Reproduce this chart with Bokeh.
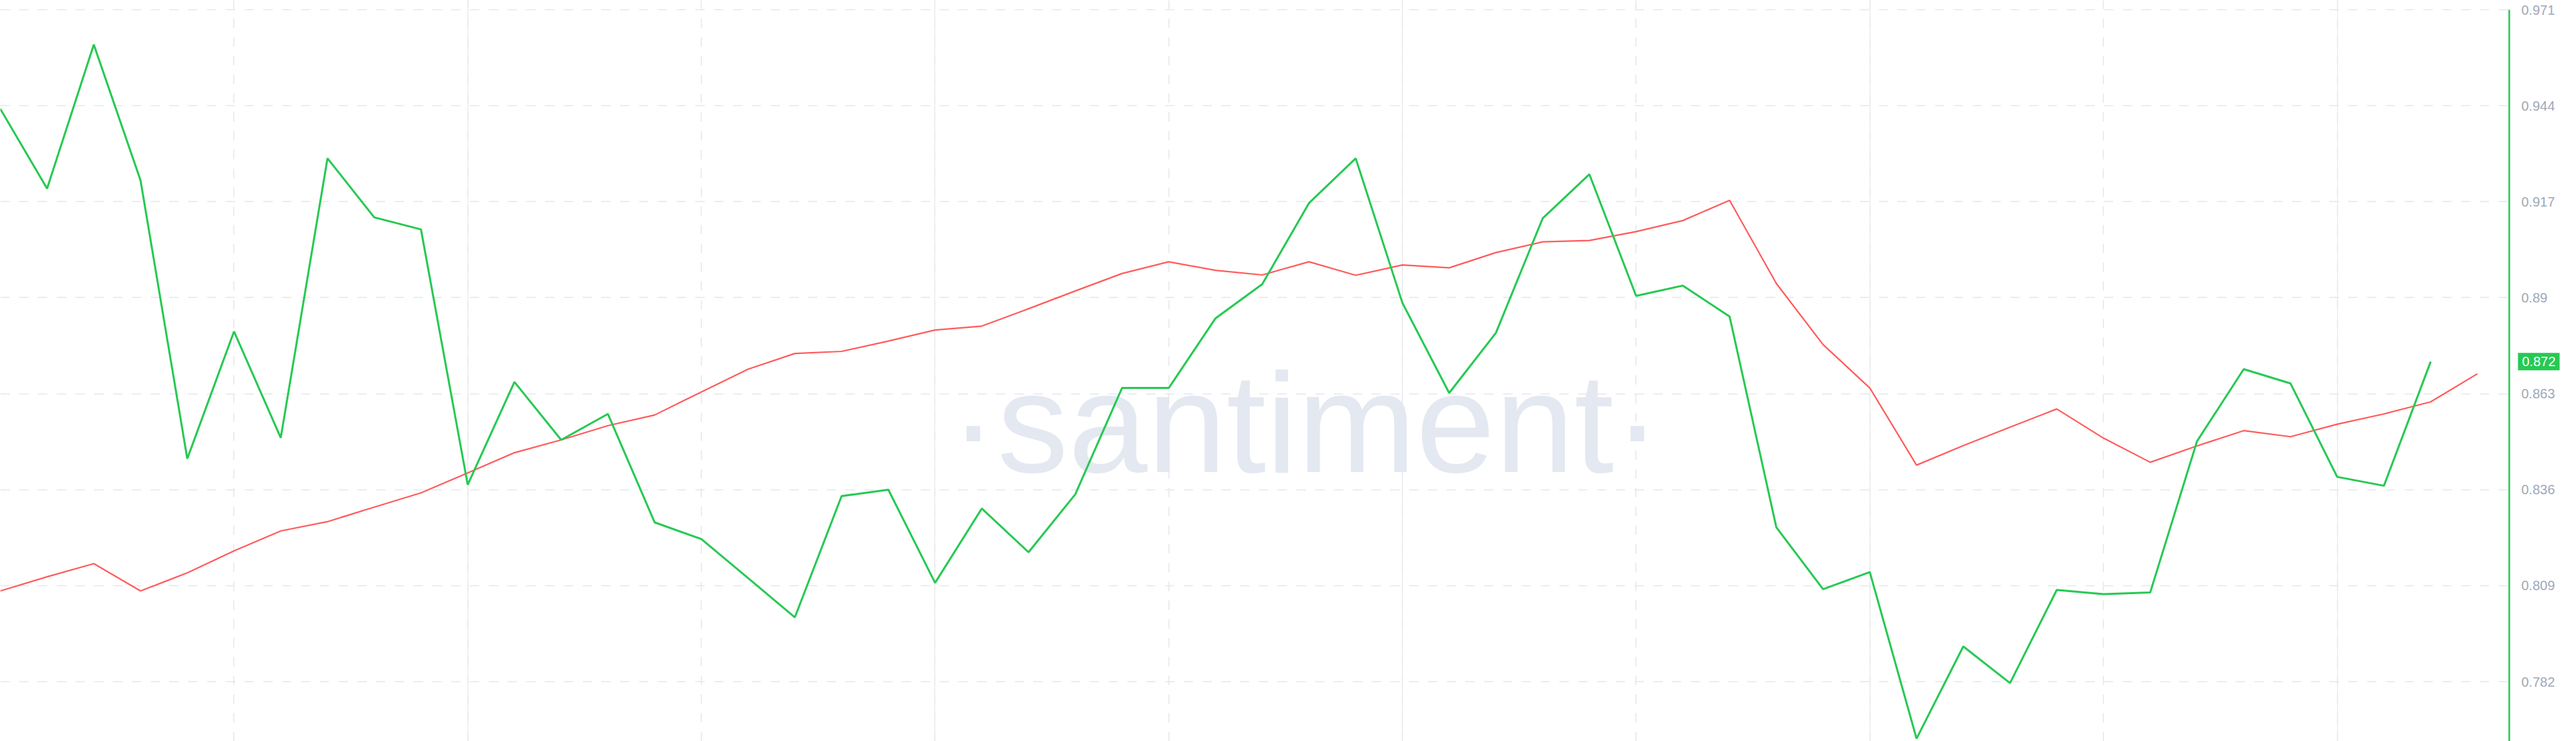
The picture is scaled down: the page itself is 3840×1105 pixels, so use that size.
from bokeh.plotting import figure
from bokeh.models import Range1d, FixedTicker, NumeralTickFormatter, Grid, Label, BoxAnnotation
from bokeh.embed import file_html
from bokeh.resources import INLINE

# ---------------- data ----------------
green_values = [0.9431, 0.9207, 0.9612, 0.9230, 0.8447, 0.8805, 0.8506, 0.9292, 0.9126, 0.9092,
                0.8374, 0.8663, 0.8500, 0.8573, 0.8268, 0.8221, 0.8111, 0.8001, 0.8342, 0.8360,
                0.8098, 0.8307, 0.8184, 0.8347, 0.8646, 0.8646, 0.8842, 0.8938, 0.9166, 0.9292,
                0.8885, 0.8632, 0.8801, 0.9123, 0.9247, 0.8905, 0.8934, 0.8847, 0.8254, 0.8080,
                0.8128, 0.7660, 0.7919, 0.7816, 0.8078, 0.8066, 0.8071, 0.8496, 0.8699, 0.8659,
                0.8396, 0.8371, 0.8720]
red_values = [0.8075, 0.8115, 0.8152, 0.8075, 0.8126, 0.8188, 0.8244, 0.8270, 0.8311, 0.8351,
              0.8407, 0.8464, 0.8500, 0.8540, 0.8570, 0.8635, 0.8699, 0.8743, 0.8749, 0.8778,
              0.8809, 0.8820, 0.8869, 0.8919, 0.8968, 0.9001, 0.8977, 0.8964, 0.9001, 0.8963,
              0.8992, 0.8984, 0.9027, 0.9057, 0.9061, 0.9086, 0.9117, 0.9174, 0.8940, 0.8768,
              0.8646, 0.8429, 0.8484, 0.8536, 0.8587, 0.8505, 0.8437, 0.8483, 0.8526, 0.8509,
              0.8544, 0.8573, 0.8607, 0.8686]
green_x = list(range(len(green_values)))
red_x = list(range(len(red_values)))
y_tick_values = [0.971, 0.944, 0.917, 0.89, 0.863, 0.836, 0.809, 0.782]
x_grid_values = list(range(0, 51, 5))
watermark_text = "\u00b7santiment\u00b7"

# ---------------- layout / style ----------------
GREEN = "#26c953"
RED = "#ff5b5b"
GRID = "#e4e6ec"
LABEL = "#a0a7ba"

W, H = 3840, 1105
STEP_PX = 69.67                      # pixels per data step
TOP_TICK_PX, BOTTOM_TICK_PX = 14, 1016
PX_PER_UNIT = (BOTTOM_TICK_PX - TOP_TICK_PX) / (y_tick_values[0] - y_tick_values[-1])
AXIS_PX = 3740                       # x of the value axis line

x_start = 0.0
x_end = W / STEP_PX
y_end = y_tick_values[0] + TOP_TICK_PX / PX_PER_UNIT
y_start = y_end - H / PX_PER_UNIT
axis_x = AXIS_PX / STEP_PX

p = figure(width=W, height=H, x_range=Range1d(x_start, x_end), y_range=Range1d(y_start, y_end),
           x_axis_location=None, y_axis_location="right", output_backend="svg",
           toolbar_location=None, min_border_left=0, min_border_right=0,
           min_border_top=0, min_border_bottom=0, outline_line_color=None,
           background_fill_color="white", border_fill_color="white")

ax = p.yaxis[0]
ax.fixed_location = axis_x
ax.ticker = FixedTicker(ticks=y_tick_values)
ax.formatter = NumeralTickFormatter(format="0.[000]")
ax.bounds = (y_start - 1, y_tick_values[0])
ax.axis_line_color = GREEN
ax.axis_line_width = 2.5
ax.major_tick_line_color = None
ax.minor_tick_line_color = None
ax.major_label_standoff = 12
ax.major_label_text_font = "Liberation Sans"
ax.major_label_text_font_size = "20px"
ax.major_label_text_color = LABEL

p.ygrid.grid_line_color = GRID
p.ygrid.grid_line_width = 1.5
p.ygrid.grid_line_dash = "14 14"

vgrid = Grid(dimension=0, ticker=FixedTicker(ticks=x_grid_values), grid_line_color=GRID,
             grid_line_width=1.5, grid_line_dash="14 14")
p.add_layout(vgrid)

# blank the area right of the value axis (grid lines stop at the axis)
p.add_layout(BoxAnnotation(left=axis_x, fill_color="white", fill_alpha=1.0,
                           line_color=None, level="underlay"))

# watermark
wm_x = 1945.5 / STEP_PX
wm_y = y_end - 630 / PX_PER_UNIT
p.add_layout(Label(x=wm_x, y=wm_y, text=watermark_text, text_font="Liberation Sans",
                   text_font_size="212px", text_font_style="normal", text_color="#e4e8f1",
                   text_align="center", text_baseline="alphabetic", level="underlay"))

p.line(red_x, red_values, line_color=RED, line_width=2.2)
p.line(green_x, green_values, line_color=GREEN, line_width=3)

# last value badge
p.add_layout(Label(x=3753 / STEP_PX, y=green_values[-1], text=f"{green_values[-1]:.3f}",
                   text_align="left", text_baseline="middle", text_color="white",
                   text_font="Liberation Sans", text_font_size="20px",
                   background_fill_color=GREEN, padding=6))

open("out.html", "w").write(file_html(p, INLINE))
